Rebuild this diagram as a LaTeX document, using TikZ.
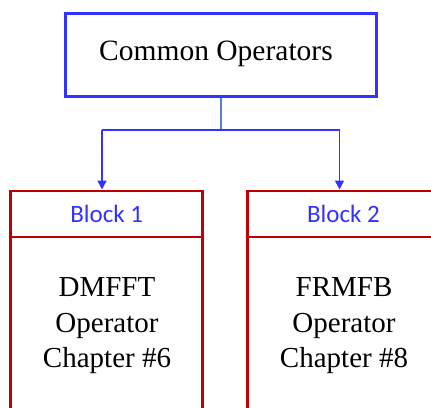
\documentclass[tikz,border=0pt]{standalone}
\usepackage{fontspec}
\setmainfont{Liberation Serif}
\newfontfamily\blockfont{Carlito}
\usetikzlibrary{arrows.meta}
\definecolor{topblue}{RGB}{51,51,255}
\definecolor{stemblue}{RGB}{84,130,205}
\definecolor{boxred}{RGB}{192,0,0}
\tikzset{
  topbox/.style={draw=topblue, line width=3pt, minimum width=311pt, minimum height=83pt, inner sep=0pt},
  toptext/.style={inner sep=0pt, font=\fontsize{29.5}{35}\selectfont},
  headbox/.style={draw=boxred, line width=2.5pt, outer sep=0pt, minimum width=192pt, minimum height=46pt, inner sep=0pt, text=topblue, font=\blockfont\fontsize{25}{30}\selectfont},
  bodybox/.style={draw=boxred, line width=2.5pt, outer sep=0pt, minimum width=192pt, minimum height=200pt, inner sep=0pt},
  bodytext/.style={align=center, inner sep=0pt, font=\fontsize{29}{35.5}\selectfont},
  stemline/.style={draw=stemblue, line width=1.5pt},
  connline/.style={draw=topblue, line width=1.6pt},
  arrowline/.style={draw=topblue, line width=1.6pt, -{Triangle[width=9pt,length=9pt]}}
}
\begin{document}
\begin{tikzpicture}[x=1pt,y=-1pt]
\useasboundingbox (0,0) rectangle (431,407);
\clip (0,0) rectangle (431,407);
\node[topbox] (top) at (221,54.5) {};
\node[toptext] (toplabel) at (216,54) {Common Operators};
\node[headbox] (h1) at (106.7,214) {Block 1};
\node[bodybox, anchor=north] (b1) at (h1.south) {};
\node[headbox] (h2) at (343.5,214) {Block 2};
\node[bodybox, anchor=north] (b2) at (h2.south) {};
\node[bodytext] (t1) at (107,326) {DMFFT\\Operator\\Chapter \#6};
\node[bodytext] (t2) at (344,326) {FRMFB\\Operator\\Chapter \#8};
\coordinate (j) at (221,130);
\coordinate (a1) at (102,130);
\coordinate (a2) at (339.5,130);
\draw[stemline] (top.south) -- (j);
\draw[connline] (a1) -- (a2);
\draw[arrowline] (a1) -- ([yshift=1.5pt]a1 |- h1.north);
\draw[arrowline] (a2) -- ([yshift=1.5pt]a2 |- h2.north);
\end{tikzpicture}
\end{document}
